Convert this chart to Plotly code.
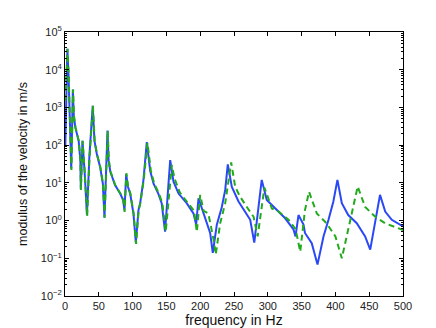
import plotly.graph_objects as go

# frequency (Hz) and velocity modulus (m/s)
freq_a = [0.5, 2, 3.5, 5.2, 6.7, 7.7, 9.2, 10.6, 11.6, 13, 15.3, 20.2, 22.7, 23.4, 25.9, 29,
          32.5, 36, 39.6, 41, 43.6, 47, 52, 56, 58.4, 62.9, 64.5, 67, 74, 81.6, 86, 88,
          90.5, 93, 96.4, 101.3, 104.8, 108.7, 111.2, 116, 121, 126, 131, 138, 143, 148,
          155.6, 160.5, 168, 180, 190, 194, 197.5, 207, 214.7, 218.6, 224.6, 232, 237,
          240.8, 246.8, 256.7, 266.6, 274, 280, 291, 298.5, 311, 325.7, 338, 341, 345.4,
          352.8, 355, 365, 373.5, 382.4, 389.8, 397, 403, 409.5, 419, 431.6, 444, 451.5,
          466, 473.7, 483.4, 500]
vel_a = [100, 3000, 36000, 7500, 1000, 135, 24, 360, 3000, 600, 295, 130, 40, 7, 130, 20,
         1.4, 48, 360, 1100, 130, 59, 26, 9.5, 1.2, 245, 40, 20, 8.7, 5.2, 3.5, 1.9,
         17, 8, 5.2, 1.5, 0.26, 1.9, 2.9, 11.7, 120, 21, 9.5, 5.2, 2.9, 0.51,
         40, 10.7, 5.2, 2.9, 1.55, 0.78, 3.9, 1.26, 0.47, 0.14, 0.78, 2.3, 6.5,
         31, 7.8, 3.2, 1.74, 1.05, 0.26, 12, 3.5, 2.1, 1.15, 0.58, 0.38, 1.4,
         0.78, 0.47, 0.25, 0.068, 0.38, 1.05, 3.2, 12, 2.9, 1.4, 0.85, 0.38, 0.17,
         4.8, 1.74, 1.05, 0.7]

freq_b = [0.5, 2, 3.7, 5.4, 6.9, 7.9, 9.5, 10.9, 12, 13.3, 15.5, 20.4, 22.9, 23.5, 26, 29.2,
          32.8, 36.3, 39.9, 41.3, 43.9, 47.3, 52.3, 56.2, 58.6, 63.2, 64.8, 67.3, 74.3,
          81.9, 86.2, 88.2, 90.8, 93.3, 96.7, 101.6, 105.2, 109, 111.5, 116.4, 122, 127,
          132, 139, 144, 149, 158, 162, 170, 182, 191, 195, 200, 205, 212, 219.7, 223,
          229.6, 237, 242, 245.8, 251.8, 259, 269, 279, 285, 295, 306, 316, 330.6, 341,
          348, 355, 361, 372.5, 387, 400, 409.5, 419, 426.8, 433, 444, 459, 473.6, 498, 500]
vel_b = [1500, 6000, 36000, 7500, 1000, 135, 22, 360, 3000, 600, 295, 130, 40, 6.5, 130, 20,
         1.3, 48, 360, 1100, 130, 59, 26, 9.5, 1.2, 240, 40, 20, 8.7,
         5.2, 3.5, 1.7, 18, 8, 5.2, 1.5, 0.24, 1.9, 2.9, 11.7, 115, 21,
         9.5, 5.2, 2.9, 0.5, 30, 13, 5.5, 3, 1.8, 0.5, 4.8, 1.8, 1.55, 0.32, 0.126,
         0.85, 2.9, 11.7, 35, 7.8, 4.3, 2.3, 1.26, 0.38, 7.5, 2.1, 1.74, 1.05, 0.6,
         0.15, 1.9, 5.8, 1.55, 0.85, 0.38, 0.1, 0.58, 2.9, 8, 2.3, 1.26, 0.85, 0.58, 0.56]

x_ticks = [0, 50, 100, 150, 200, 250, 300, 350, 400, 450, 500]
y_exps = [-2, -1, 0, 1, 2, 3, 4, 5]

y_tickvals = [10.0 ** e for e in y_exps]
y_ticktext = ["10<sup>%s</sup>" % (str(e).replace("-", "\u2212")) for e in y_exps]
y_minor = [m * 10.0 ** e for e in y_exps[:-1] for m in range(2, 10)]

fig = go.Figure()
fig.add_trace(go.Scatter(x=freq_a, y=vel_a, mode="lines",
                         line=dict(color="#2a48f5", width=2)))
fig.add_trace(go.Scatter(x=freq_b, y=vel_b, mode="lines",
                         line=dict(color="#22aa1c", width=2, dash="6px,4px")))

axis_common = dict(showline=True, linecolor="black", linewidth=1, mirror="ticks",
                   ticks="inside", tickcolor="black", showgrid=False, zeroline=False,
                   tickfont=dict(family="Liberation Sans", size=11, color="#222"))

fig.update_xaxes(range=[0, 500], tickvals=x_ticks, ticklen=4,
                 title=dict(text="frequency in Hz", standoff=2,
                            font=dict(family="Liberation Sans", size=14, color="#111")),
                 **axis_common)
fig.update_yaxes(type="log", range=[-2, 5], tickvals=y_tickvals, ticktext=y_ticktext,
                 ticklen=4,
                 minor=dict(ticks="inside", ticklen=2, tickcolor="black", tickvals=y_minor),
                 title=dict(text="modulus of the velocity in m/s", standoff=10,
                            font=dict(family="Liberation Sans", size=12.5, color="#111")),
                 **axis_common)

fig.update_layout(width=436, height=328, showlegend=False,
                  margin=dict(l=57, r=41, t=24, b=38),
                  plot_bgcolor="white", paper_bgcolor="white")

fig.write_html("out.html")
